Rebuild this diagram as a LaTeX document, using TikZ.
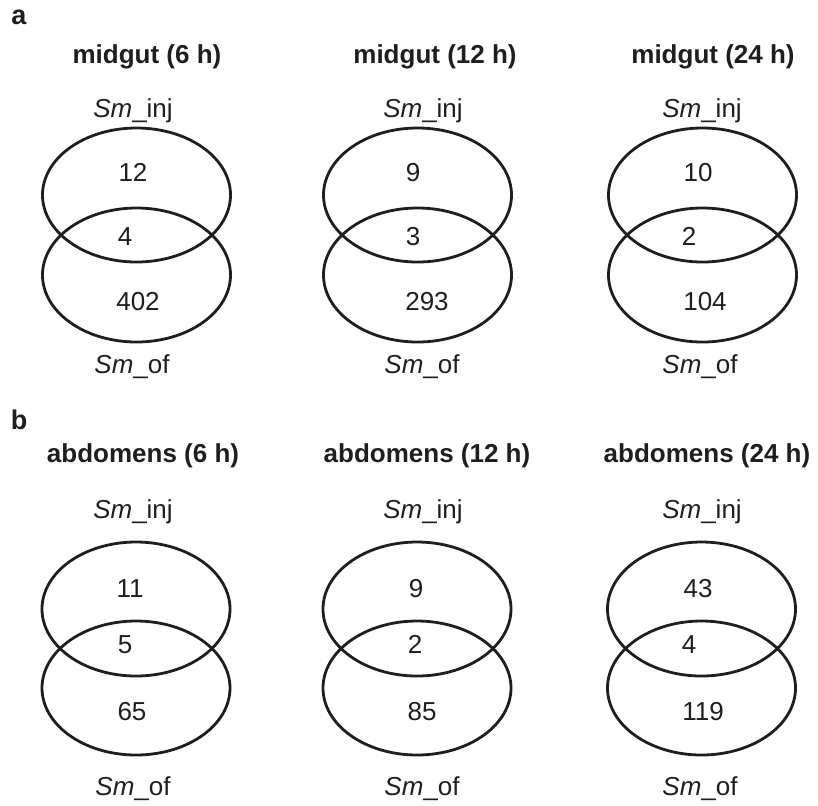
\documentclass[tikz,border=0pt]{standalone}
\usepackage{fontspec}
\setmainfont{Liberation Sans}
\usetikzlibrary{shapes.geometric}
\definecolor{ink}{HTML}{1E1E1E}
\tikzset{
  lbl/.style={anchor=base, inner sep=0pt, text=ink, font=\fontsize{13}{15}\selectfont},
  ttl/.style={lbl, font=\fontsize{13}{15}\selectfont\bfseries},
  panel/.style={lbl, font=\fontsize{13.5}{15}\selectfont\bfseries},
  setshape/.style={ellipse, draw=ink, line width=1.4pt, inner sep=0pt,
                   minimum width=94pt, minimum height=67pt},
}
\newcommand\inj{\textit{Sm}\_inj}
\newcommand\off{\textit{Sm}\_of}
\begin{document}
\begin{tikzpicture}[x=0.5pt, y=-0.5pt]
  \useasboundingbox (0,0) rectangle (818,805);

  % ---------- panel a: midgut ----------
  \node[panel] (pa) at (19,24) {a};
  \node[ttl] (ta1) at (147,63) {midgut (6 h)};
  \node[ttl] (ta2) at (435,63) {midgut (12 h)};
  \node[ttl] (ta3) at (713,63) {midgut (24 h)};

  \node[lbl] (ia1) at (133,117) {\inj};
  \node[lbl] (ia2) at (423,117) {\inj};
  \node[lbl] (ia3) at (702,117) {\inj};

  \node[setshape] (ua1) at (136.5,195) {};
  \node[setshape] (la1) at (136.5,275) {};
  \node[setshape] (ua2) at (417.5,195) {};
  \node[setshape] (la2) at (417.5,275) {};
  \node[setshape] (ua3) at (702.5,195) {};
  \node[setshape] (la3) at (702.5,275) {};

  \node[lbl] (na1) at (133,181) {12};
  \node[lbl] (ca1) at (125,245) {4};
  \node[lbl] (ma1) at (138,310) {402};
  \node[lbl] (na2) at (413,181) {9};
  \node[lbl] (ca2) at (413,245) {3};
  \node[lbl] (ma2) at (427,310) {293};
  \node[lbl] (na3) at (698,181) {10};
  \node[lbl] (ca3) at (689,245) {2};
  \node[lbl] (ma3) at (705,310) {104};

  \node[lbl] (oa1) at (132,373) {\off};
  \node[lbl] (oa2) at (422,373) {\off};
  \node[lbl] (oa3) at (700,373) {\off};

  % ---------- panel b: abdomens ----------
  \node[panel] (pb) at (19,429) {b};
  \node[ttl] (tb1) at (143,462) {abdomens (6 h)};
  \node[ttl] (tb2) at (427,462) {abdomens (12 h)};
  \node[ttl] (tb3) at (707,462) {abdomens (24 h)};

  \node[lbl] (ib1) at (133,518) {\inj};
  \node[lbl] (ib2) at (423,518) {\inj};
  \node[lbl] (ib3) at (702,518) {\inj};

  \node[setshape] (ub1) at (136,609) {};
  \node[setshape] (lb1) at (136,688) {};
  \node[setshape] (ub2) at (417,609) {};
  \node[setshape] (lb2) at (417,688) {};
  \node[setshape] (ub3) at (701.5,609) {};
  \node[setshape] (lb3) at (701.5,688) {};

  \node[lbl] (nb1) at (130,597) {11};
  \node[lbl] (cb1) at (125,653) {5};
  \node[lbl] (mb1) at (132,720) {65};
  \node[lbl] (nb2) at (416,597) {9};
  \node[lbl] (cb2) at (415,653) {2};
  \node[lbl] (mb2) at (422,720) {85};
  \node[lbl] (nb3) at (698,597) {43};
  \node[lbl] (cb3) at (689,653) {4};
  \node[lbl] (mb3) at (703,720) {119};

  \node[lbl] (ob1) at (133,795) {\off};
  \node[lbl] (ob2) at (422,795) {\off};
  \node[lbl] (ob3) at (700,795) {\off};
\end{tikzpicture}
\end{document}
